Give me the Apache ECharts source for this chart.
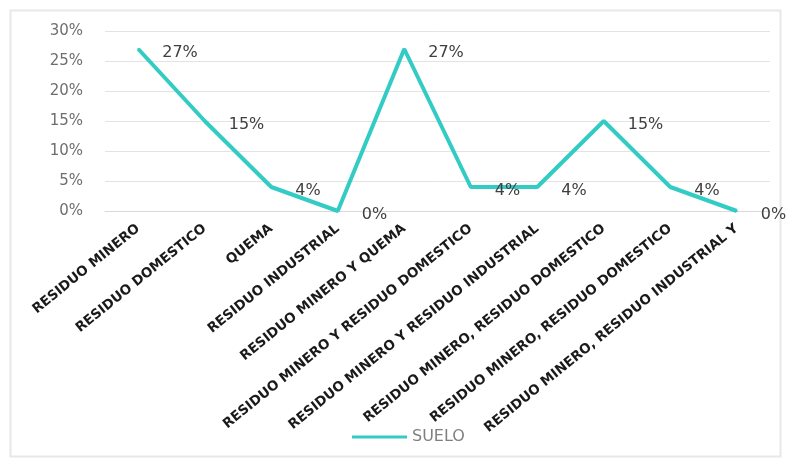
<!DOCTYPE html>
<html>
<head>
<meta charset="utf-8">
<script src="https://cdn.jsdelivr.net/npm/echarts@6/dist/echarts.min.js"></script>
<style>
html,body{margin:0;padding:0;background:#fff;}
#chart{width:787px;height:462px;}
</style>
</head>
<body>
<div id="chart"></div>
<script>
const categories = [
  'RESIDUO MINERO',
  'RESIDUO DOMESTICO',
  'QUEMA',
  'RESIDUO INDUSTRIAL',
  'RESIDUO MINERO Y QUEMA',
  'RESIDUO MINERO Y RESIDUO DOMESTICO',
  'RESIDUO MINERO Y RESIDUO INDUSTRIAL',
  'RESIDUO MINERO, RESIDUO DOMESTICO',
  'RESIDUO MINERO, RESIDUO DOMESTICO',
  'RESIDUO MINERO, RESIDUO INDUSTRIAL Y'
];
const suelo = [27, 15, 4, 0, 27, 4, 4, 15, 4, 0];
const seriesName = 'SUELO';

const chart = echarts.init(document.getElementById('chart'));
chart.setOption({
  backgroundColor: '#ffffff',
  animation: false,
  graphic: [{
    type: 'rect',
    left: 8, top: 8,
    shape: { width: 770, height: 446 },
    style: { fill: 'none', stroke: '#e8e8e8', lineWidth: 2 },
    z: -10
  }],
  grid: { left: 105, right: 17, top: 31, bottom: 251, containLabel: false },
  legend: {
    left: 347, top: 424,
    icon: 'rect',
    itemWidth: 55, itemHeight: 3, itemGap: 10,
    textStyle: { color: '#7f7f7f', fontSize: 16, fontFamily: 'DejaVu Sans' },
    data: [seriesName]
  },
  xAxis: {
    type: 'category',
    data: categories,
    boundaryGap: true,
    axisLine: { show: true, lineStyle: { color: '#d9d9d9', width: 1 } },
    axisTick: { show: false },
    axisLabel: {
      rotate: 39,
      interval: 0,
      margin: 16,
      color: '#1a1a1a',
      fontWeight: 'bold',
      fontSize: 13.5,
      fontFamily: 'DejaVu Sans'
    }
  },
  yAxis: {
    type: 'value',
    min: 0, max: 30, interval: 5,
    axisLine: { show: false },
    axisTick: { show: false },
    splitLine: { lineStyle: { color: '#e3e3e3', width: 1 } },
    axisLabel: {
      formatter: '{value}%',
      margin: 22,
      color: '#6e6e6e',
      fontSize: 15,
      fontFamily: 'DejaVu Sans'
    }
  },
  series: [{
    name: seriesName,
    type: 'line',
    data: suelo,
    symbol: 'circle',
    symbolSize: 2,
    showSymbol: true,
    lineStyle: { color: '#33CCC4', width: 4 },
    itemStyle: { color: '#33CCC4' },
    label: {
      show: true,
      position: 'right',
      distance: 23,
      offset: [0, 4],
      formatter: '{c}%',
      color: '#404040',
      fontSize: 16,
      fontFamily: 'DejaVu Sans'
    }
  }]
});
</script>
</body>
</html>
